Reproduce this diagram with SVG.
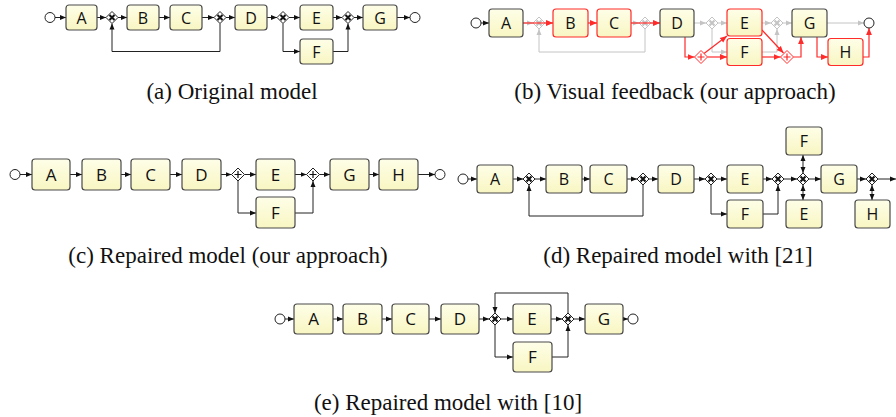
<svg xmlns="http://www.w3.org/2000/svg" width="896" height="417" viewBox="0 0 896 417">
<style>
.box{fill:url(#yg);stroke:#4a4a4a;stroke-width:1.2}
.rbox{fill:url(#yg);stroke:#ff2a2a;stroke-width:1.2}
.lbl{font-family:"Open Sans","DejaVu Sans",sans-serif;font-size:16px;fill:#111;text-anchor:middle}
.big{font-size:17px}
.ev{fill:#fff;stroke:#222;stroke-width:1}
.gw{fill:#fff;stroke:#222;stroke-width:1}
.ggw{fill:#fff;stroke:#c4c4c4;stroke-width:1}
.rgw{fill:#fff;stroke:#ff2a2a;stroke-width:1}
.xm{stroke:#111;stroke-width:2;fill:none}
.gxm{stroke:#c4c4c4;stroke-width:2;fill:none}
.pm{stroke:#111;stroke-width:1.2;fill:none}
.rpm{stroke:#ff2a2a;stroke-width:1.2;fill:none}
.e{fill:none;stroke:#222;stroke-width:1;marker-end:url(#ab)}
.d{fill:none;stroke:#222;stroke-width:1;marker-end:url(#ab);marker-start:url(#ab)}
.g{fill:none;stroke:#c4c4c4;stroke-width:1;marker-end:url(#ag)}
.r{fill:none;stroke:#ff2a2a;stroke-width:1.2;marker-end:url(#ar)}
.cap{font-family:"Liberation Serif","Times New Roman",serif;font-size:23px;fill:#111;text-anchor:middle}
</style>
<defs>
<linearGradient id="yg" x1="0" y1="0" x2="0" y2="1"><stop offset="0" stop-color="#fefee8"/><stop offset="1" stop-color="#f8f6c2"/></linearGradient>
<marker id="ab" viewBox="0 0 6 6" refX="6" refY="3" markerWidth="6" markerHeight="6" markerUnits="userSpaceOnUse" orient="auto-start-reverse"><path d="M0,0.5 L6,3 L0,5.5 Z" fill="#111"/></marker>
<marker id="ag" viewBox="0 0 6 6" refX="6" refY="3" markerWidth="6" markerHeight="6" markerUnits="userSpaceOnUse" orient="auto"><path d="M0,0.5 L6,3 L0,5.5 Z" fill="#c4c4c4"/></marker>
<marker id="ar" viewBox="0 0 6 6" refX="6" refY="3" markerWidth="7" markerHeight="7" markerUnits="userSpaceOnUse" orient="auto"><path d="M0,0.5 L6,3 L0,5.5 Z" fill="#ff2a2a"/></marker>
</defs>

<!-- ===== (a) Original model ===== -->
<g id="a-connectors">
<path class="e" d="M55,17.5 H66"/>
<path class="e" d="M97,17.5 H106"/>
<path class="e" d="M118,17.5 H127"/>
<path class="e" d="M159,17.5 H170"/>
<path class="e" d="M202,17.5 H214"/>
<path class="e" d="M226,17.5 H235"/>
<path class="e" d="M267,17.5 H277"/>
<path class="e" d="M289,17.5 H300"/>
<path class="e" d="M333,17.5 H342"/>
<path class="e" d="M354,17.5 H363"/>
<path class="e" d="M397,17.5 H410"/>
<path class="e" d="M220,23.5 V51.5 H112 V23.5"/>
<path class="e" d="M283,23.5 V51.5 H300"/>
<path class="e" d="M333,51.5 H348 V23.5"/>
</g>
<g id="a-start"><circle class="ev" cx="50" cy="17.5" r="5"/></g>
<g id="a-A"><rect class="box" x="66" y="5" width="31" height="25" rx="3"/><text class="lbl" x="81.5" y="23.5">A</text></g>
<g id="a-gw1"><path class="gw" d="M112,11.5 L118,17.5 L112,23.5 L106,17.5 Z"/><path class="xm" d="M109.5,15 L114.5,20 M114.5,15 L109.5,20"/></g>
<g id="a-B"><rect class="box" x="127" y="5" width="32" height="25" rx="3"/><text class="lbl" x="143" y="23.5">B</text></g>
<g id="a-C"><rect class="box" x="170" y="5" width="32" height="25" rx="3"/><text class="lbl" x="186" y="23.5">C</text></g>
<g id="a-gw2"><path class="gw" d="M220,11.5 L226,17.5 L220,23.5 L214,17.5 Z"/><path class="xm" d="M217.5,15 L222.5,20 M222.5,15 L217.5,20"/></g>
<g id="a-D"><rect class="box" x="235" y="5" width="32" height="25" rx="3"/><text class="lbl" x="251" y="23.5">D</text></g>
<g id="a-gw3"><path class="gw" d="M283,11.5 L289,17.5 L283,23.5 L277,17.5 Z"/><path class="xm" d="M280.5,15 L285.5,20 M285.5,15 L280.5,20"/></g>
<g id="a-E"><rect class="box" x="300" y="5" width="33" height="25" rx="3"/><text class="lbl" x="316.5" y="23.5">E</text></g>
<g id="a-F"><rect class="box" x="300" y="39" width="33" height="25" rx="3"/><text class="lbl" x="316.5" y="57.5">F</text></g>
<g id="a-gw4"><path class="gw" d="M348,11.5 L354,17.5 L348,23.5 L342,17.5 Z"/><path class="xm" d="M345.5,15 L350.5,20 M350.5,15 L345.5,20"/></g>
<g id="a-G"><rect class="box" x="363" y="5" width="34" height="25" rx="3"/><text class="lbl" x="380" y="23.5">G</text></g>
<g id="a-end"><circle class="ev" cx="415" cy="17.5" r="5"/></g>
<text class="cap" x="232" y="99">(a) Original model</text>

<!-- ===== (b) Visual feedback ===== -->
<g id="b-connectors">
<path class="e" d="M481,23 H489"/>
<path class="g" d="M523,23 H533"/>
<path class="g" d="M545,23 H553"/>
<path class="g" d="M631,23 H639"/>
<path class="g" d="M651,23 H660"/>
<path class="g" d="M645,29 V52 H539 V29"/>
<path class="g" d="M694,23 H706"/>
<path class="g" d="M718,23 H727"/>
<path class="g" d="M712,29 V52 H727"/>
<path class="g" d="M762,23 H771"/>
<path class="g" d="M762,52 H777 V29"/>
<path class="g" d="M783,23 H792"/>
<path class="g" d="M827,23 H864"/>
</g>
<g id="b-gw1"><path class="ggw" d="M539,17 L545,23 L539,29 L533,23 Z"/><path class="gxm" d="M536.5,20.5 L541.5,25.5 M541.5,20.5 L536.5,25.5"/></g>
<g id="b-gw2"><path class="ggw" d="M645,17 L651,23 L645,29 L639,23 Z"/><path class="gxm" d="M642.5,20.5 L647.5,25.5 M647.5,20.5 L642.5,25.5"/></g>
<g id="b-gw3"><path class="ggw" d="M712,17 L718,23 L712,29 L706,23 Z"/><path class="gxm" d="M709.5,20.5 L714.5,25.5 M714.5,20.5 L709.5,25.5"/></g>
<g id="b-gw4"><path class="ggw" d="M777,17 L783,23 L777,29 L771,23 Z"/><path class="gxm" d="M774.5,20.5 L779.5,25.5 M779.5,20.5 L774.5,25.5"/></g>
<g id="b-red-connectors">
<path class="r" d="M523,23 H553"/>
<path class="r" d="M588,23 H597"/>
<path class="r" d="M631,23 H660"/>
<path class="r" d="M685,37 V57 H694.5"/>
<path class="r" d="M707.5,57 H727"/>
<path class="r" d="M704,53.5 L727,36"/>
<path class="r" d="M762,30 L783.5,53"/>
<path class="r" d="M762,57 H780.5"/>
<path class="r" d="M793.5,57 H801 V37"/>
<path class="r" d="M817,37 V57 H828"/>
<path class="r" d="M863,57 H869 V28"/>
</g>
<g id="b-start"><circle class="ev" cx="476" cy="23" r="5"/></g>
<g id="b-A"><rect class="box" x="489" y="9" width="34" height="28" rx="3"/><text class="lbl" x="506" y="29">A</text></g>
<g id="b-B"><rect class="rbox" x="553" y="9" width="35" height="28" rx="3"/><text class="lbl" x="570.5" y="29">B</text></g>
<g id="b-C"><rect class="rbox" x="597" y="9" width="34" height="28" rx="3"/><text class="lbl" x="614" y="29">C</text></g>
<g id="b-D"><rect class="box" x="660" y="9" width="34" height="28" rx="3"/><text class="lbl" x="677" y="29">D</text></g>
<g id="b-E"><rect class="rbox" x="727" y="9" width="35" height="27" rx="3"/><text class="lbl" x="744.5" y="28.5">E</text></g>
<g id="b-F"><rect class="rbox" x="727" y="38.5" width="35" height="27" rx="3"/><text class="lbl" x="744.5" y="58">F</text></g>
<g id="b-and1"><path class="rgw" d="M701,50.5 L707.5,57 L701,63.5 L694.5,57 Z"/><path class="rpm" d="M701,53.5 V60.5 M697.5,57 H704.5"/></g>
<g id="b-and2"><path class="rgw" d="M787,50.5 L793.5,57 L787,63.5 L780.5,57 Z"/><path class="rpm" d="M787,53.5 V60.5 M783.5,57 H790.5"/></g>
<g id="b-G"><rect class="box" x="792" y="9" width="35" height="28" rx="3"/><text class="lbl" x="809.5" y="29">G</text></g>
<g id="b-H"><rect class="rbox" x="828" y="38.5" width="35" height="27" rx="3"/><text class="lbl" x="845.5" y="58">H</text></g>
<g id="b-end"><circle class="ev" cx="869" cy="23" r="5"/></g>
<text class="cap" x="675" y="99">(b) Visual feedback (our approach)</text>

<!-- ===== (c) Repaired model (our approach) ===== -->
<g id="c-connectors">
<path class="e" d="M20,174.5 H32"/>
<path class="e" d="M70,174.5 H82"/>
<path class="e" d="M121,174.5 H131"/>
<path class="e" d="M170,174.5 H182"/>
<path class="e" d="M221,174.5 H231.5"/>
<path class="e" d="M244.5,174.5 H256"/>
<path class="e" d="M295,174.5 H306.5"/>
<path class="e" d="M319.5,174.5 H330"/>
<path class="e" d="M369,174.5 H379"/>
<path class="e" d="M418,174.5 H435"/>
<path class="e" d="M238,181 V213 H256"/>
<path class="e" d="M295,213 H313 V181"/>
</g>
<g id="c-start"><circle class="ev" cx="15" cy="174.5" r="5"/></g>
<g id="c-A"><rect class="box" x="32" y="159" width="38" height="31" rx="3"/><text class="lbl big" x="51" y="181">A</text></g>
<g id="c-B"><rect class="box" x="82" y="159" width="39" height="31" rx="3"/><text class="lbl big" x="101.5" y="181">B</text></g>
<g id="c-C"><rect class="box" x="131" y="159" width="39" height="31" rx="3"/><text class="lbl big" x="150.5" y="181">C</text></g>
<g id="c-D"><rect class="box" x="182" y="159" width="39" height="31" rx="3"/><text class="lbl big" x="201.5" y="181">D</text></g>
<g id="c-and1"><path class="gw" d="M238,168 L244.5,174.5 L238,181 L231.5,174.5 Z"/><path class="pm" d="M238,171 V178 M234.5,174.5 H241.5"/></g>
<g id="c-E"><rect class="box" x="256" y="159" width="39" height="31" rx="3"/><text class="lbl big" x="275.5" y="181">E</text></g>
<g id="c-F"><rect class="box" x="256" y="197" width="39" height="31" rx="3"/><text class="lbl big" x="275.5" y="219">F</text></g>
<g id="c-and2"><path class="gw" d="M313,168 L319.5,174.5 L313,181 L306.5,174.5 Z"/><path class="pm" d="M313,171 V178 M309.5,174.5 H316.5"/></g>
<g id="c-G"><rect class="box" x="330" y="159" width="39" height="31" rx="3"/><text class="lbl big" x="349.5" y="181">G</text></g>
<g id="c-H"><rect class="box" x="379" y="159" width="39" height="31" rx="3"/><text class="lbl big" x="398.5" y="181">H</text></g>
<g id="c-end"><circle class="ev" cx="440" cy="174.5" r="5"/></g>
<text class="cap" x="228" y="263">(c) Repaired model (our approach)</text>

<!-- ===== (d) Repaired model with [21] ===== -->
<g id="d-connectors">
<path class="e" d="M468,179 H477"/>
<path class="e" d="M513,179 H523"/>
<path class="e" d="M535,179 H546"/>
<path class="e" d="M582,179 H590"/>
<path class="e" d="M627,179 H637"/>
<path class="e" d="M649,179 H658"/>
<path class="e" d="M643,185 V216 H529 V185"/>
<path class="e" d="M694,179 H705"/>
<path class="e" d="M717,179 H727"/>
<path class="e" d="M711,185 V214 H727"/>
<path class="e" d="M763,179 H772"/>
<path class="e" d="M763,214 H778 V185"/>
<path class="e" d="M784,179 H797"/>
<path class="e" d="M809,179 H821"/>
<path class="e" d="M857,179 H866"/>
<path class="e" d="M878,179 H896"/>
<path class="d" d="M803,155 V173"/>
<path class="d" d="M803,200 V185"/>
<path class="d" d="M872,200 V185"/>
</g>
<g id="d-start"><circle class="ev" cx="463" cy="179" r="5"/></g>
<g id="d-A"><rect class="box" x="477" y="165" width="36" height="28" rx="3"/><text class="lbl" x="495" y="185">A</text></g>
<g id="d-gw1"><path class="gw" d="M529,173 L535,179 L529,185 L523,179 Z"/><path class="xm" d="M526.5,176.5 L531.5,181.5 M531.5,176.5 L526.5,181.5"/></g>
<g id="d-B"><rect class="box" x="546" y="165" width="36" height="28" rx="3"/><text class="lbl" x="564" y="185">B</text></g>
<g id="d-C"><rect class="box" x="590" y="165" width="37" height="28" rx="3"/><text class="lbl" x="608.5" y="185">C</text></g>
<g id="d-gw2"><path class="gw" d="M643,173 L649,179 L643,185 L637,179 Z"/><path class="xm" d="M640.5,176.5 L645.5,181.5 M645.5,176.5 L640.5,181.5"/></g>
<g id="d-D"><rect class="box" x="658" y="165" width="36" height="28" rx="3"/><text class="lbl" x="676" y="185">D</text></g>
<g id="d-gw3"><path class="gw" d="M711,173 L717,179 L711,185 L705,179 Z"/><path class="xm" d="M708.5,176.5 L713.5,181.5 M713.5,176.5 L708.5,181.5"/></g>
<g id="d-E"><rect class="box" x="727" y="165" width="36" height="28" rx="3"/><text class="lbl" x="745" y="185">E</text></g>
<g id="d-F"><rect class="box" x="727" y="200" width="36" height="28" rx="3"/><text class="lbl" x="745" y="220">F</text></g>
<g id="d-gw4"><path class="gw" d="M778,173 L784,179 L778,185 L772,179 Z"/><path class="xm" d="M775.5,176.5 L780.5,181.5 M780.5,176.5 L775.5,181.5"/></g>
<g id="d-gw5"><path class="gw" d="M803,173 L809,179 L803,185 L797,179 Z"/><path class="xm" d="M800.5,176.5 L805.5,181.5 M805.5,176.5 L800.5,181.5"/></g>
<g id="d-F2"><rect class="box" x="786" y="127" width="36" height="28" rx="3"/><text class="lbl" x="804" y="147">F</text></g>
<g id="d-E2"><rect class="box" x="786" y="200" width="36" height="28" rx="3"/><text class="lbl" x="804" y="220">E</text></g>
<g id="d-G"><rect class="box" x="821" y="165" width="36" height="28" rx="3"/><text class="lbl" x="839" y="185">G</text></g>
<g id="d-gw6"><path class="gw" d="M872,173 L878,179 L872,185 L866,179 Z"/><path class="xm" d="M869.5,176.5 L874.5,181.5 M874.5,176.5 L869.5,181.5"/></g>
<g id="d-H"><rect class="box" x="855" y="200" width="35" height="28" rx="3"/><text class="lbl" x="872.5" y="220">H</text></g>
<text class="cap" x="678" y="263">(d) Repaired model with [21]</text>

<!-- ===== (e) Repaired model with [10] ===== -->
<g id="e-connectors">
<path class="e" d="M285,319 H294"/>
<path class="e" d="M333,319 H343"/>
<path class="e" d="M382,319 H392"/>
<path class="e" d="M429,319 H441"/>
<path class="e" d="M479,319 H489"/>
<path class="e" d="M501,319 H513"/>
<path class="e" d="M551,319 H562"/>
<path class="e" d="M574,319 H585"/>
<path class="e" d="M623,319 H628"/>
<path class="e" d="M568,313 V293 H495 V313"/>
<path class="e" d="M495,325 V357 H513"/>
<path class="e" d="M552,357 H568 V325"/>
</g>
<g id="e-start"><circle class="ev" cx="280" cy="319" r="5"/></g>
<g id="e-A"><rect class="box" x="294" y="304" width="39" height="30" rx="3"/><text class="lbl big" x="313.5" y="325">A</text></g>
<g id="e-B"><rect class="box" x="343" y="304" width="39" height="30" rx="3"/><text class="lbl big" x="362.5" y="325">B</text></g>
<g id="e-C"><rect class="box" x="392" y="304" width="37" height="30" rx="3"/><text class="lbl big" x="410.5" y="325">C</text></g>
<g id="e-D"><rect class="box" x="441" y="304" width="38" height="30" rx="3"/><text class="lbl big" x="460" y="325">D</text></g>
<g id="e-gw1"><path class="gw" d="M495,313 L501,319 L495,325 L489,319 Z"/><path class="xm" d="M492.5,316.5 L497.5,321.5 M497.5,316.5 L492.5,321.5"/></g>
<g id="e-E"><rect class="box" x="513" y="304" width="38" height="30" rx="3"/><text class="lbl big" x="532" y="325">E</text></g>
<g id="e-F"><rect class="box" x="513" y="342" width="39" height="30" rx="3"/><text class="lbl big" x="532.5" y="363">F</text></g>
<g id="e-gw2"><path class="gw" d="M568,313 L574,319 L568,325 L562,319 Z"/><path class="xm" d="M565.5,316.5 L570.5,321.5 M570.5,316.5 L565.5,321.5"/></g>
<g id="e-G"><rect class="box" x="585" y="304" width="38" height="30" rx="3"/><text class="lbl big" x="604" y="325">G</text></g>
<g id="e-end"><circle class="ev" cx="633" cy="319" r="5"/></g>
<text class="cap" x="448" y="410">(e) Repaired model with [10]</text>
</svg>
